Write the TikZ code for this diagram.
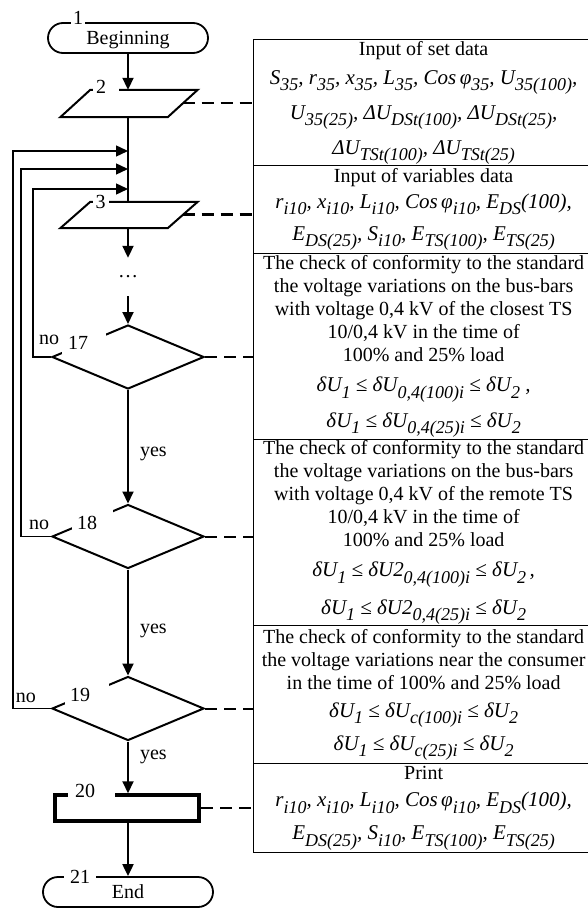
\documentclass[tikz,border=0pt]{standalone}
\usepackage{fontspec}
\setmainfont{Liberation Serif}
\usetikzlibrary{shapes.geometric,shapes.misc,arrows.meta,calc}
\newcommand\dsub[1]{\raisebox{-0.3em}{\fontsize{18}{18}\selectfont #1}}
\newcommand\fml{\itshape\fontsize{21}{23}\selectfont}
\begin{document}
\begin{tikzpicture}[x=1pt,y=-1pt,
  font=\fontsize{20}{23}\selectfont,
  flow/.style={line width=2pt},
  arr/.style={line width=2pt,-{Triangle[length=12pt,width=11pt]}},
  fb/.style={line width=1.4pt,-{Triangle[length=12pt,width=11pt]}},
  dsh/.style={line width=2pt,dash pattern=on 12pt off 7pt},
  termnl/.style={rounded rectangle,draw,line width=1.8pt,inner sep=0pt,minimum height=30pt,text depth=0pt},
  pgbox/.style={draw=none,inner sep=0pt,minimum width=137pt,minimum height=27pt},
  pgline/.style={line width=2pt,line join=miter},
  decis/.style={diamond,draw,line width=2pt,inner sep=0pt,minimum width=152pt,minimum height=64pt},
  numlab/.style={fill=white,inner ysep=3pt},
  yeslab/.style={anchor=west,xshift=11pt,inner sep=0pt},
  trow/.style={draw,line width=1.3pt,anchor=north west,minimum width=340pt,inner sep=0pt,align=center},
]
\useasboundingbox (0,0) rectangle (587,909);

% table
\node[trow,minimum height=126pt] (t1) at (253,39) {Input of set data\\[6pt]
{\fml S\dsub{35}, r\dsub{35}, x\dsub{35}, L\dsub{35}, Cos\,φ\dsub{35}, U\dsub{35(100)},}\\[10pt]
{\fml U\dsub{35(25)}, ΔU\dsub{DSt(100)}, ΔU\dsub{DSt(25)},}\\[10pt]
{\fml ΔU\dsub{TSt(100)}, ΔU\dsub{TSt(25)}}};
\node[trow,minimum height=88pt] (t2) at (253,165) {Input of variables data\\[3pt]
{\fml r\dsub{i10}, x\dsub{i10}, L\dsub{i10}, Cos\,φ\dsub{i10}, E\dsub{DS}(100),}\\[9pt]
{\fml E\dsub{DS(25)}, S\dsub{i10}, E\dsub{TS(100)}, E\dsub{TS(25)}}};
\node[trow,minimum height=186pt] (t3) at (253,253) {The check of conformity to the standard\\
the voltage variations on the bus-bars\\
with voltage 0,4 kV of the closest TS\\
10/0,4 kV in the time of\\
100\% and 25\% load\\[7pt]
{\fml δU\dsub{1} ≤ δU\dsub{0,4(100)i} ≤ δU\dsub{2}\ ,}\\[10pt]
{\fml δU\dsub{1} ≤ δU\dsub{0,4(25)i} ≤ δU\dsub{2}}};
\node[trow,minimum height=186pt] (t4) at (253,439) {The check of conformity to the standard\\
the voltage variations on the bus-bars\\
with voltage 0,4 kV of the remote TS\\
10/0,4 kV in the time of\\
100\% and 25\% load\\[7pt]
{\fml δU\dsub{1} ≤ δU2\dsub{0,4(100)i} ≤ δU\dsub{2}\,,}\\[12pt]
{\fml δU\dsub{1} ≤ δU2\dsub{0,4(25)i} ≤ δU\dsub{2}}};
\node[trow,minimum height=138pt] (t5) at (253,625) {The check of conformity to the standard\\
the voltage variations near the consumer\\
in the time of 100\% and 25\% load\\[5pt]
{\fml δU\dsub{1} ≤ δU\dsub{c(100)i} ≤ δU\dsub{2}}\\[7pt]
{\fml δU\dsub{1} ≤ δU\dsub{c(25)i} ≤ δU\dsub{2}}};
\node[trow,minimum height=89pt] (t6) at (253,763) {Print\\[4pt]
{\fml r\dsub{i10}, x\dsub{i10}, L\dsub{i10}, Cos\,φ\dsub{i10}, E\dsub{DS}(100),}\\[10pt]
{\fml E\dsub{DS(25)}, S\dsub{i10}, E\dsub{TS(100)}, E\dsub{TS(25)}}};

% flowchart shapes
\node[termnl,minimum width=160pt] (beg) at (128,38) {Beginning};
\node[pgbox] (p2) at (129,103.5) {};
\draw[pgline] (p2.south west) -- ($(p2.north west)+(30,0)$) -- (p2.north east) -- ($(p2.south east)+(-30,0)$) -- cycle;
\node[pgbox,minimum height=26pt] (p3) at (129,215) {};
\draw[pgline] (p3.south west) -- ($(p3.north west)+(30,0)$) -- (p3.north east) -- ($(p3.south east)+(-30,0)$) -- cycle;
\node[inner sep=0pt,minimum height=38pt] (dots) at (128,277) {\ldots};
\node[decis] (d17) at (128,357) {};
\node[decis] (d18) at (128,536.5) {};
\node[decis] (d19) at (128,708.5) {};
\node[draw,line width=4pt,minimum width=144.5pt,minimum height=25.5pt,inner sep=0pt] (b20) at (127,808) {};
\node[termnl,minimum width=170pt] (end) at (128,892) {End};

% connectors
\coordinate (m1) at (128,151);
\coordinate (m2) at (128,169);
\coordinate (m3) at (128,189);
\coordinate (k19) at (13,151);
\coordinate (k18) at (21,169);
\coordinate (k17) at (33,189);
\draw[arr] (beg.south) -- (beg.south |- p2.north);
\draw[flow] (beg.south |- p2.south) -- (beg.south |- p3.north);
\draw[fb] (d19.west) -| (k19) -- (m1);
\draw[fb] (d18.west) -| (k18) -- (m2);
\draw[fb] (d17.west) -| (k17) -- (m3);
\draw[arr] (beg.south |- p3.south) -- (dots.north);
\draw[arr] (dots.south) -- (d17.north);
\draw[arr] (d17.south) -- node[yeslab,pos=0.565] (y1) {yes} (d18.north);
\draw[arr] (d18.south) -- node[yeslab,pos=0.58] (y2) {yes} (d19.north);
\draw[arr] (d19.south) -- node[yeslab,pos=0.3] (y3) {yes} (b20.north -| d19.south);
\draw[arr] (b20.south -| end.north) -- (end.north);

\draw[dsh] ($(p2.east)+(-15,0)$) -- (p2.east -| t1.west);
\draw[dsh,line width=3pt] ($(p3.east)+(-15,0)$) -- (p3.east -| t2.west);
\draw[dsh] (d17.east) -- (d17.east -| t3.west);
\draw[dsh] (d18.east) -- (d18.east -| t4.west);
\draw[dsh] (d19.east) -- (d19.east -| t5.west);
\draw[dsh] (b20.east) -- (b20.east -| t6.west);

% labels
\node[numlab,inner xsep=2pt] (n1) at (78,18) {1};
\node[numlab,inner xsep=3pt] (n2) at (106,87) {2\hspace*{10pt}};
\node[numlab,inner xsep=3pt] (n3) at (100.5,202) {3};
\node[numlab,inner xsep=6pt,inner ysep=4pt] (n17) at (84,343) {17\hspace*{12pt}};
\node[numlab,inner xsep=5pt,inner ysep=7pt] (n18) at (92.5,523) {18\hspace*{11pt}};
\node[numlab,inner xsep=5pt,inner ysep=6pt] (n19) at (87,695) {19\hspace*{14pt}};
\node[numlab,inner xsep=7pt,inner ysep=5pt] (n20) at (91.5,791) {20\hspace*{13pt}};
\node[numlab,inner xsep=6pt] (n21) at (80,877) {21};
\node (no17) at (49,340) {no};
\node (no18) at (39,525) {no};
\node (no19) at (26,698) {no};
\end{tikzpicture}
\end{document}
